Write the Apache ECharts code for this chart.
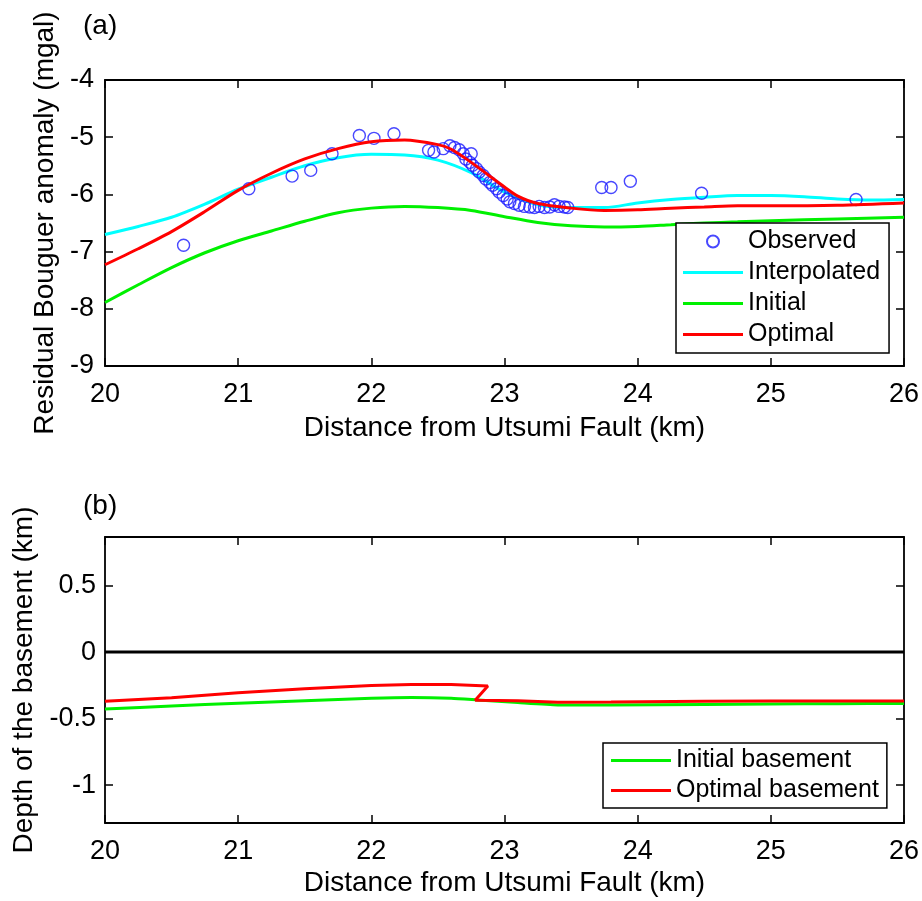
<!DOCTYPE html>
<html lang="en">
<head>
    <meta charset="UTF-8">
    <title>Residual Bouguer anomaly</title>
    <style>
    body{
        margin:0;
        background:#fff;
    }
    #main{
        width: 922px;
        height: 901px;
    }
    </style>
</head>
<body>
    <div id="main"></div>
    <script src="https://cdn.jsdelivr.net/npm/echarts@6/dist/echarts.min.js"></script>
    <script>
    // (a) observed residual Bouguer anomaly (mgal)
    var obsX = [20.59, 21.08, 21.405, 21.545, 21.705, 21.91, 22.02, 22.17, 22.43, 22.47,
        22.54, 22.59, 22.625, 22.66, 22.69, 22.75, 22.71, 22.74, 22.76, 22.79,
        22.81, 22.84, 22.86, 22.89, 22.91, 22.94, 22.96, 22.99, 23.02, 23.04,
        23.075, 23.11, 23.15, 23.19, 23.225, 23.26, 23.30, 23.34, 23.375, 23.41,
        23.45, 23.475, 23.73, 23.80, 23.945, 24.48, 25.64];
    var obsY = [-6.89, -5.90, -5.68, -5.58, -5.29, -4.97, -5.02, -4.94, -5.23, -5.26,
        -5.20, -5.15, -5.18, -5.22, -5.29, -5.29, -5.38, -5.44, -5.49, -5.55,
        -5.61, -5.67, -5.73, -5.79, -5.84, -5.90, -5.96, -6.02, -6.08, -6.13,
        -6.16, -6.19, -6.21, -6.22, -6.23, -6.21, -6.23, -6.22, -6.18, -6.21,
        -6.22, -6.23, -5.88, -5.88, -5.77, -5.98, -6.09];

    var interpX = [20, 20.25, 20.5, 20.75, 21, 21.25, 21.5, 21.75, 22, 22.25, 22.5, 22.75,
        23, 23.25, 23.5, 23.75, 24, 24.25, 24.5, 24.75, 25, 25.25, 25.5, 25.75, 26];
    var interpY = [-6.70, -6.56, -6.40, -6.17, -5.91, -5.70, -5.50, -5.36, -5.30, -5.31, -5.40, -5.62,
        -5.96, -6.18, -6.23, -6.23, -6.15, -6.09, -6.05, -6.02, -6.02, -6.04, -6.08, -6.10, -6.09];

    var initX = [20, 20.25, 20.5, 20.75, 21, 21.25, 21.5, 21.75, 22, 22.25, 22.5, 22.75,
        23, 23.25, 23.5, 23.75, 24, 24.25, 24.5, 24.75, 25, 25.5, 26];
    var initY = [-7.89, -7.58, -7.28, -7.02, -6.81, -6.64, -6.47, -6.32, -6.24, -6.21, -6.23, -6.28,
        -6.39, -6.49, -6.55, -6.57, -6.56, -6.53, -6.50, -6.48, -6.46, -6.43, -6.40];

    var optX = [20, 20.25, 20.5, 20.75, 21, 21.25, 21.5, 21.75, 22, 22.25, 22.5, 22.6, 22.75,
        23, 23.1, 23.25, 23.5, 23.75, 24, 24.25, 24.5, 24.75, 25, 25.5, 26];
    var optY = [-7.23, -6.95, -6.65, -6.30, -5.93, -5.63, -5.38, -5.20, -5.08, -5.05, -5.13, -5.21, -5.44,
        -5.87, -6.03, -6.16, -6.24, -6.28, -6.27, -6.24, -6.22, -6.20, -6.20, -6.19, -6.15];

    // (b) basement depth (km)
    var surfX = [20, 26];
    var surfY = [0, 0];

    var baseInitX = [20, 20.5, 21, 21.5, 22, 22.3, 22.6, 22.8, 23.1, 23.4, 23.8, 24.5, 25, 25.5, 26];
    var baseInitY = [-0.428, -0.405, -0.385, -0.366, -0.347, -0.341, -0.347, -0.360, -0.380, -0.397,
        -0.398, -0.394, -0.391, -0.388, -0.386];

    var baseOptX = [20, 20.5, 21, 21.5, 22, 22.3, 22.6, 22.875, 22.78, 23.1, 23.4, 23.8, 24.5, 25, 25.5, 26];
    var baseOptY = [-0.370, -0.343, -0.305, -0.275, -0.252, -0.243, -0.243, -0.255, -0.362, -0.366,
        -0.377, -0.376, -0.370, -0.367, -0.368, -0.368];

    var depthTicks = [-1, -0.5, 0, 0.5];

    function pairs(xs, ys) {
        var out = [];
        for (var i = 0; i < xs.length; i++) out.push([xs[i], ys[i]]);
        return out;
    }

    var font = "'Liberation Sans', Arial, sans-serif";
    var lineIcon = 'path://M0,0 L60,0 L60,3 L0,3 Z';
    var axisLine = {show: true, onZero: false, lineStyle: {color: '#000', width: 1.8}};
    var tickIn = {show: true, inside: true, length: 8, lineStyle: {color: '#000', width: 1.5}};
    var label = {fontSize: 27, color: '#000', fontFamily: font};
    var nameStyle = {fontSize: 28, color: '#000', fontFamily: font};
    var panelTitle = {fontSize: 28, fontWeight: 'normal', color: '#000', fontFamily: font};

    var myChart = echarts.init(document.getElementById('main'));
    var option = {
        backgroundColor: '#fff',
        animation: false,
        textStyle: {fontFamily: font},
        title: [
            {text: '(a)', left: 83, top: 12, padding: 0, textStyle: panelTitle},
            {text: '(b)', left: 83, top: 492, padding: 0, textStyle: panelTitle}
        ],
        grid: [
            {left: 105, top: 80, width: 800, height: 286},
            {left: 105, top: 537, width: 800, height: 286}
        ],
        xAxis: [
            {
                type: 'value', gridIndex: 0, min: 20, max: 26, interval: 1,
                name: 'Distance from Utsumi Fault (km)', nameLocation: 'middle', nameGap: 48,
                nameTextStyle: nameStyle,
                axisLine: axisLine, axisTick: tickIn,
                axisLabel: Object.assign({margin: 15}, label),
                splitLine: {show: false}
            },
            {
                type: 'value', gridIndex: 0, position: 'top', min: 20, max: 26, interval: 1,
                axisLine: axisLine, axisTick: tickIn, axisLabel: {show: false}, splitLine: {show: false}
            },
            {
                type: 'value', gridIndex: 1, min: 20, max: 26, interval: 1,
                name: 'Distance from Utsumi Fault (km)', nameLocation: 'middle', nameGap: 46,
                nameTextStyle: nameStyle,
                axisLine: axisLine, axisTick: tickIn,
                axisLabel: Object.assign({margin: 15}, label),
                splitLine: {show: false}
            },
            {
                type: 'value', gridIndex: 1, position: 'top', min: 20, max: 26, interval: 1,
                axisLine: axisLine, axisTick: tickIn, axisLabel: {show: false}, splitLine: {show: false}
            }
        ],
        yAxis: [
            {
                type: 'value', gridIndex: 0, min: -9, max: -4, interval: 1,
                name: 'Residual Bouguer anomaly (mgal)', nameLocation: 'middle', nameGap: 44,
                nameTextStyle: nameStyle,
                axisLine: axisLine, axisTick: tickIn,
                axisLabel: Object.assign({margin: 11}, label),
                splitLine: {show: false}
            },
            {
                type: 'value', gridIndex: 0, position: 'right', min: -9, max: -4, interval: 1,
                axisLine: axisLine, axisTick: tickIn, axisLabel: {show: false}, splitLine: {show: false}
            },
            {
                type: 'value', gridIndex: 1, min: -1.285, max: 0.865,
                name: 'Depth of the basement (km)', nameLocation: 'middle', nameGap: 67,
                nameTextStyle: nameStyle,
                axisLine: axisLine,
                axisTick: Object.assign({customValues: depthTicks}, tickIn),
                axisLabel: Object.assign({margin: 9, customValues: depthTicks}, label),
                splitLine: {show: false}
            },
            {
                type: 'value', gridIndex: 1, position: 'right', min: -1.285, max: 0.865,
                axisLine: axisLine,
                axisTick: Object.assign({customValues: depthTicks}, tickIn),
                axisLabel: {show: false}, splitLine: {show: false}
            }
        ],
        legend: [
            {
                orient: 'vertical', left: 676, top: 223,
                data: [
                    {name: 'Observed', icon: 'circle'},
                    {name: 'Interpolated', icon: lineIcon},
                    {name: 'Initial', icon: lineIcon},
                    {name: 'Optimal', icon: lineIcon}
                ],
                itemWidth: 60, itemHeight: 12, itemGap: 6,
                padding: [6, 9, 6, 7],
                backgroundColor: '#fff', borderColor: '#000', borderWidth: 1.5, borderRadius: 0,
                textStyle: {fontSize: 25, color: '#000', fontFamily: font, lineHeight: 25}
            },
            {
                orient: 'vertical', left: 603, top: 743,
                data: [
                    {name: 'Initial basement', icon: lineIcon},
                    {name: 'Optimal basement', icon: lineIcon}
                ],
                itemWidth: 60, itemHeight: 12, itemGap: 5,
                padding: [5, 8, 5, 8],
                backgroundColor: '#fff', borderColor: '#000', borderWidth: 1.5, borderRadius: 0,
                textStyle: {fontSize: 25, color: '#000', fontFamily: font, lineHeight: 25}
            }
        ],
        series: [
            {
                name: 'Interpolated', type: 'line', xAxisIndex: 0, yAxisIndex: 0,
                data: pairs(interpX, interpY), smooth: 0.3, showSymbol: false, symbol: 'none',
                lineStyle: {color: '#00ffff', width: 3}, itemStyle: {color: '#00ffff'}, z: 2
            },
            {
                name: 'Initial', type: 'line', xAxisIndex: 0, yAxisIndex: 0,
                data: pairs(initX, initY), smooth: 0.3, showSymbol: false, symbol: 'none',
                lineStyle: {color: '#00f000', width: 3}, itemStyle: {color: '#00f000'}, z: 2
            },
            {
                name: 'Observed', type: 'scatter', xAxisIndex: 0, yAxisIndex: 0,
                data: pairs(obsX, obsY), symbol: 'circle', symbolSize: 12,
                itemStyle: {color: 'rgba(0,0,0,0)', borderColor: '#1a1aff', borderWidth: 1.4}, z: 3
            },
            {
                name: 'Optimal', type: 'line', xAxisIndex: 0, yAxisIndex: 0,
                data: pairs(optX, optY), smooth: 0.3, showSymbol: false, symbol: 'none',
                lineStyle: {color: '#ff0000', width: 3}, itemStyle: {color: '#ff0000'}, z: 4
            },
            {
                name: 'Surface', type: 'line', xAxisIndex: 2, yAxisIndex: 2,
                data: pairs(surfX, surfY), showSymbol: false, symbol: 'none',
                lineStyle: {color: '#000', width: 3}, z: 2
            },
            {
                name: 'Initial basement', type: 'line', xAxisIndex: 2, yAxisIndex: 2,
                data: pairs(baseInitX, baseInitY), smooth: 0.2, showSymbol: false, symbol: 'none',
                lineStyle: {color: '#00f000', width: 3}, itemStyle: {color: '#00f000'}, z: 2
            },
            {
                name: 'Optimal basement', type: 'line', xAxisIndex: 2, yAxisIndex: 2,
                data: pairs(baseOptX, baseOptY), showSymbol: false, symbol: 'none',
                lineStyle: {color: '#ff0000', width: 3}, itemStyle: {color: '#ff0000'}, z: 3
            }
        ]
    };
    myChart.setOption(option);
    </script>
</body>
</html>
